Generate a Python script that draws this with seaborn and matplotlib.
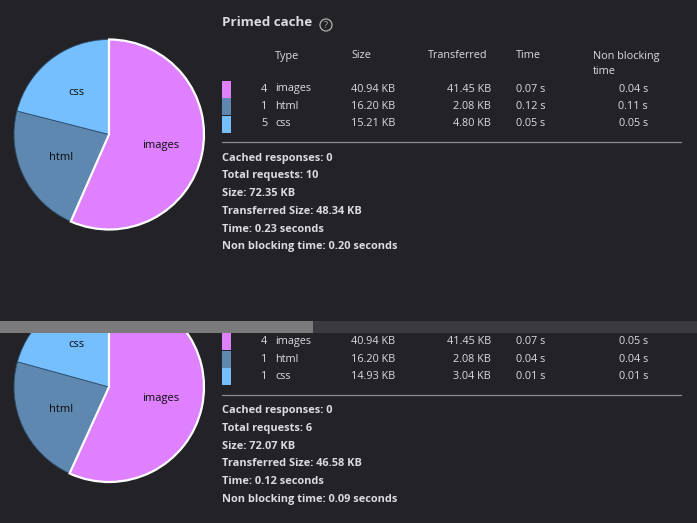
import matplotlib
matplotlib.use("Agg")
import matplotlib.pyplot as plt
import seaborn as sns
from matplotlib.patches import Rectangle, Circle

# request types shown in both panels
types = ['images', 'html', 'css']
type_colors = ['#df80ff', '#5e88b0', '#75bfff']

# primed cache panel
primed_counts = [4, 1, 5]
primed_size = [40.94, 16.20, 15.21]
primed_transferred = [41.45, 2.08, 4.80]
primed_time = [0.07, 0.12, 0.05]
primed_nonblocking = [0.04, 0.11, 0.05]
primed_summary = [0, 10, 72.35, 48.34, 0.23, 0.20]

# second panel (scrolled, title hidden)
second_counts = [4, 1, 1]
second_size = [40.94, 16.20, 14.93]
second_transferred = [41.45, 2.08, 3.04]
second_time = [0.07, 0.04, 0.01]
second_nonblocking = [0.05, 0.04, 0.01]
second_summary = [0, 6, 72.07, 46.58, 0.12, 0.09]

summary_fmt = ['Cached responses: {}', 'Total requests: {}', 'Size: {:.2f} KB',
               'Transferred Size: {:.2f} KB', 'Time: {:.2f} seconds',
               'Non blocking time: {:.2f} seconds']

BG = '#232327'
FG = '#dcdce0'
W, H = 697, 523

sns.set_theme(style='dark', rc={'figure.facecolor': BG, 'axes.facecolor': BG})
plt.rcParams['font.family'] = ['Open Sans', 'DejaVu Sans']


def Y(py):
    return H - py


def draw_panel(ax, shift, counts, size, transferred, time, nonblocking, summary):
    # pie
    wedges, texts = ax.pie(size, colors=type_colors, labels=types, startangle=90,
                           counterclock=False, center=(109, Y(134.5 + shift)),
                           radius=95, labeldistance=0.56, frame=True,
                           textprops={'color': '#0c0c0d', 'fontsize': 8})
    for i, w in enumerate(wedges):
        w.set_clip_on(True)
        if i == 0:
            w.set_edgecolor('white')
            w.set_linewidth(1.6)
            w.set_zorder(3)
        else:
            w.set_edgecolor('#2f4f6d')
            w.set_linewidth(0.6)
            w.set_zorder(2)
    for t in texts:
        t.set_ha('center')
        t.set_va('center')
        t.set_zorder(4)
        t.set_clip_on(True)

    kw = dict(color=FG, fontsize=7.8, va='center', clip_on=True)
    ax.text(222, Y(23 + shift), 'Primed cache', color=FG, fontsize=9.6,
            fontweight='bold', va='center', clip_on=True)
    ax.add_patch(Circle((326, Y(25 + shift)), 6, fill=False, ec='#b1b1b3', lw=0.9))
    ax.text(326, Y(25 + shift), '?', color='#b1b1b3', fontsize=6.5,
            ha='center', va='center', clip_on=True)

    ax.text(275, Y(56 + shift), 'Type', **kw)
    ax.text(351, Y(56 + shift), 'Size', **kw)
    ax.text(428, Y(56 + shift), 'Transferred', **kw)
    ax.text(516, Y(56 + shift), 'Time', **kw)
    ax.text(593, Y(56 + shift), 'Non blocking', **kw)
    ax.text(593, Y(72 + shift), 'time', **kw)

    rows = [89, 106.5, 124]
    for i in range(len(types)):
        ry = rows[i] + shift
        ax.add_patch(Rectangle((222, Y(ry + 8.5)), 9, 17, color=type_colors[i], lw=0))
        ax.text(267, Y(ry), str(counts[i]), ha='right', **kw)
        ax.text(275, Y(ry), types[i], **kw)
        ax.text(351, Y(ry), f'{size[i]:.2f} KB', **kw)
        ax.text(491, Y(ry), f'{transferred[i]:.2f} KB', ha='right', **kw)
        ax.text(516, Y(ry), f'{time[i]:.2f} s', **kw)
        ax.text(648, Y(ry), f'{nonblocking[i]:.2f} s', ha='right', **kw)

    ax.plot([222, 681], [Y(142 + shift)] * 2, color='#8a8a90', lw=0.9)

    for j, fmt in enumerate(summary_fmt):
        ax.text(222, Y(158 + 17.8 * j + shift), fmt.format(summary[j]),
                color=FG, fontsize=7.9, fontweight='bold', va='center', clip_on=True)


fig = plt.figure(figsize=(W / 100, H / 100), dpi=100)

# upper panel incl. scrollbar (pixel rows 0-333)
ax1 = fig.add_axes([0, 190 / H, 1, 333 / H])
ax1.set_facecolor(BG)
draw_panel(ax1, 0, primed_counts, primed_size, primed_transferred, primed_time,
           primed_nonblocking, primed_summary)
ax1.add_patch(Rectangle((0, Y(333)), 313, 12, color='#7b7b7d', lw=0, zorder=5))
ax1.add_patch(Rectangle((313, Y(333)), W - 313, 12, color='#3b3b3f', lw=0, zorder=5))
ax1.set_xlim(0, W)
ax1.set_ylim(Y(333), H)
ax1.axis('off')

# lower panel (pixel rows 333-523)
ax2 = fig.add_axes([0, 0, 1, 190 / H])
ax2.set_facecolor(BG)
draw_panel(ax2, 252.5, second_counts, second_size, second_transferred, second_time,
           second_nonblocking, second_summary)
ax2.set_xlim(0, W)
ax2.set_ylim(0, Y(333))
ax2.axis('off')

fig.savefig('out.png', dpi=100, facecolor=BG)
